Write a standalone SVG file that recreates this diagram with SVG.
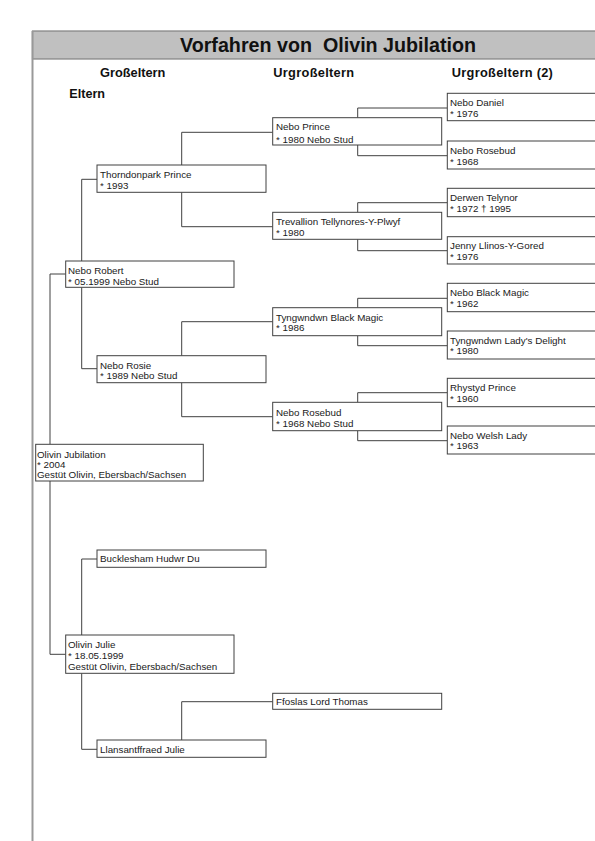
<svg xmlns="http://www.w3.org/2000/svg" width="595" height="841" viewBox="0 0 595 841">
<style>
.bx{fill:#fff;stroke:#404040;stroke-width:1}
.t{font-family:"Liberation Sans",Arial,sans-serif;font-size:9.8px;fill:#1a1a1a}
.h{font-family:"Liberation Sans",Arial,sans-serif;font-weight:bold;fill:#111}
.c{fill:none;stroke:#404040;stroke-width:1}
</style>
<rect x="0" y="0" width="595" height="841" fill="#fff"/>
<g id="frame">
<rect x="32.5" y="31" width="570" height="28" fill="#c0c0c0" stroke="#808080" stroke-width="1.2"/>
<line x1="32.5" y1="31" x2="32.5" y2="841" stroke="#999" stroke-width="2"/>
<text class="h" x="180" y="51.7" font-size="19.7" xml:space="preserve" style="white-space:pre">Vorfahren von  Olivin Jubilation</text>
<text class="h" x="100" y="76.7" font-size="12.8">Großeltern</text>
<text class="h" x="273.3" y="76.7" font-size="12.8" letter-spacing="0.3">Urgroßeltern</text>
<text class="h" x="451.7" y="76.7" font-size="12.8" letter-spacing="0.3">Urgroßeltern (2)</text>
<text class="h" x="69.3" y="98.3" font-size="12.6">Eltern</text>
</g>
<g id="connectors">
<path class="c" d="M50,444.3V274H65.7"/>
<path class="c" d="M50,481V654.3H65.7"/>
<path class="c" d="M81.7,261V179.3H97"/>
<path class="c" d="M81.7,287.3V368.7H97"/>
<path class="c" d="M181.7,165V132.3H272.7"/>
<path class="c" d="M181.7,192.3V226.7H272.7"/>
<path class="c" d="M181.7,355.7V321.7H272.7"/>
<path class="c" d="M181.7,382.7V416.7H272.7"/>
<path class="c" d="M357.7,117.7V108H447.3"/>
<path class="c" d="M357.7,145V155.7H447.3"/>
<path class="c" d="M357.7,212.3V202.7H447.3"/>
<path class="c" d="M357.7,239.3V250.7H447.3"/>
<path class="c" d="M357.7,307.7V298.3H447.3"/>
<path class="c" d="M357.7,335.7V345.7H447.3"/>
<path class="c" d="M357.7,402.3V392.7H447.3"/>
<path class="c" d="M357.7,430.7V440.7H447.3"/>
<path class="c" d="M81.7,635V559H97"/>
<path class="c" d="M81.7,673.3V749.3H97"/>
<path class="c" d="M181.7,740V701.7H272.7"/>
</g>
<g id="olivin-jubilation">
<rect class="bx" x="35.7" y="444.3" width="167.6" height="36.7"/>
<text class="t" x="37" y="457.5">Olivin Jubilation</text>
<text class="t" x="37" y="467.5">* 2004</text>
<text class="t" x="37" y="478">Gestüt Olivin, Ebersbach/Sachsen</text>
</g>
<g id="nebo-robert">
<rect class="bx" x="65.7" y="261" width="168.3" height="26.3"/>
<text class="t" x="68" y="274">Nebo Robert</text>
<text class="t" x="68" y="285">* 05.1999 Nebo Stud</text>
</g>
<g id="olivin-julie">
<rect class="bx" x="65.7" y="635" width="168.3" height="38.3"/>
<text class="t" x="68" y="648.3">Olivin Julie</text>
<text class="t" x="68" y="658.5">* 18.05.1999</text>
<text class="t" x="68" y="670">Gestüt Olivin, Ebersbach/Sachsen</text>
</g>
<g id="thorndonpark-prince">
<rect class="bx" x="97" y="165" width="169" height="27.3"/>
<text class="t" x="100" y="178.3">Thorndonpark Prince</text>
<text class="t" x="100" y="189">* 1993</text>
</g>
<g id="nebo-rosie">
<rect class="bx" x="97" y="355.7" width="169" height="27"/>
<text class="t" x="100" y="368.5">Nebo Rosie</text>
<text class="t" x="100" y="379.3">* 1989 Nebo Stud</text>
</g>
<g id="bucklesham-hudwr-du">
<rect class="bx" x="97" y="550" width="169" height="17.3"/>
<text class="t" x="100" y="562">Bucklesham Hudwr Du</text>
</g>
<g id="llansantffraed-julie">
<rect class="bx" x="97" y="740" width="169" height="17.3"/>
<text class="t" x="100" y="752.5">Llansantffraed Julie</text>
</g>
<g id="nebo-prince">
<rect class="bx" x="272.7" y="117.7" width="169" height="27.3"/>
<text class="t" x="276" y="130.2">Nebo Prince</text>
<text class="t" x="276" y="142.5">* 1980 Nebo Stud</text>
</g>
<g id="trevallion-tellynores">
<rect class="bx" x="272.7" y="212.3" width="169" height="27"/>
<text class="t" x="276" y="225">Trevallion Tellynores-Y-Plwyf</text>
<text class="t" x="276" y="235.5">* 1980</text>
</g>
<g id="tyngwndwn-black-magic">
<rect class="bx" x="272.7" y="307.7" width="169" height="28"/>
<text class="t" x="276" y="320.5">Tyngwndwn Black Magic</text>
<text class="t" x="276" y="330.5">* 1986</text>
</g>
<g id="nebo-rosebud-mid">
<rect class="bx" x="272.7" y="402.3" width="169" height="28.4"/>
<text class="t" x="276" y="415.8">Nebo Rosebud</text>
<text class="t" x="276" y="427">* 1968 Nebo Stud</text>
</g>
<g id="ffoslas-lord-thomas">
<rect class="bx" x="272.7" y="693.3" width="169" height="16"/>
<text class="t" x="276" y="705">Ffoslas Lord Thomas</text>
</g>
<g id="nebo-daniel">
<rect class="bx" x="447.3" y="93.3" width="160" height="27.4"/>
<text class="t" x="450" y="106">Nebo Daniel</text>
<text class="t" x="450" y="116.5">* 1976</text>
</g>
<g id="nebo-rosebud-right">
<rect class="bx" x="447.3" y="141" width="160" height="28"/>
<text class="t" x="450" y="153.5">Nebo Rosebud</text>
<text class="t" x="450" y="164.5">* 1968</text>
</g>
<g id="derwen-telynor">
<rect class="bx" x="447.3" y="188.3" width="160" height="28.4"/>
<text class="t" x="450" y="201">Derwen Telynor</text>
<text class="t" x="450" y="211.5">* 1972 † 1995</text>
</g>
<g id="jenny-llinos">
<rect class="bx" x="447.3" y="236.7" width="160" height="27.3"/>
<text class="t" x="450" y="249">Jenny Llinos-Y-Gored</text>
<text class="t" x="450" y="259.5">* 1976</text>
</g>
<g id="nebo-black-magic">
<rect class="bx" x="447.3" y="283.3" width="160" height="28.4"/>
<text class="t" x="450" y="296">Nebo Black Magic</text>
<text class="t" x="450" y="307">* 1962</text>
</g>
<g id="tyngwndwn-ladys-delight">
<rect class="bx" x="447.3" y="331" width="160" height="28"/>
<text class="t" x="450" y="343.5">Tyngwndwn Lady's Delight</text>
<text class="t" x="450" y="354">* 1980</text>
</g>
<g id="rhystyd-prince">
<rect class="bx" x="447.3" y="378.3" width="160" height="28.4"/>
<text class="t" x="450" y="391">Rhystyd Prince</text>
<text class="t" x="450" y="401.5">* 1960</text>
</g>
<g id="nebo-welsh-lady">
<rect class="bx" x="447.3" y="426" width="160" height="28"/>
<text class="t" x="450" y="438.5">Nebo Welsh Lady</text>
<text class="t" x="450" y="449">* 1963</text>
</g>
</svg>
